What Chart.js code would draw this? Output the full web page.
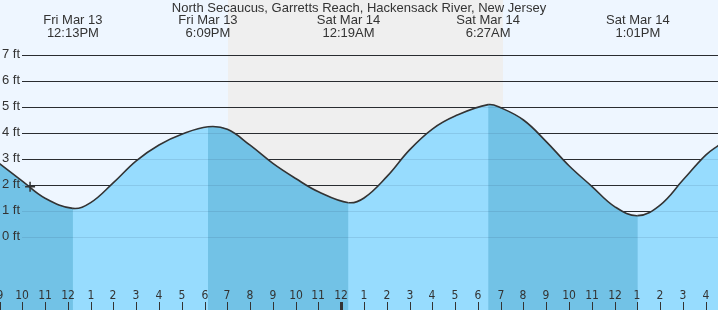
<!DOCTYPE html>
<html>
<head>
<meta charset="utf-8">
<style>
	body{ margin:0; background:#eef6ff; }
	#wrap{ width:718px; height:310px; }
</style>
<script src="https://cdn.jsdelivr.net/npm/chart.js"></script>
</head>
<body>
<div id="wrap"><canvas id="tideChart" width="718" height="310"></canvas></div>
<script>
// hours counted from Fri Mar 13 00:00
const tideHours = [9, 10, 11, 12.22, 13, 14, 15, 16, 17, 18.15, 19, 20, 21, 22, 23, 24.32, 25, 26, 27, 28, 29, 30.45, 31, 32, 33, 34, 35, 36, 37.02, 38, 39, 40, 40.6]
const tideFeet  = [2.82, 2.15, 1.49, 1.10, 1.32, 2.09, 2.93, 3.54, 3.95, 4.24, 4.14, 3.53, 2.83, 2.25, 1.74, 1.32, 1.50, 2.32, 3.35, 4.15, 4.65, 5.09, 4.97, 4.50, 3.67, 2.74, 1.95, 1.17, 0.82, 1.23, 2.19, 3.15, 3.55]

const eventHours = [12.22, 18.15, 24.32, 30.45, 37.02]
const eventDays  = ['Fri Mar 13', 'Fri Mar 13', 'Sat Mar 14', 'Sat Mar 14', 'Sat Mar 14']
const eventTimes = ['12:13PM', '6:09PM', '12:19AM', '6:27AM', '1:01PM']

const nowHour = 10.34
const nowFeet = 1.93

const nightStart = 19.03
const nightEnd = 31.10

const feetTicks = [0, 1, 2, 3, 4, 5, 6, 7]
const feetLabels = ['0 ft', '1 ft', '2 ft', '3 ft', '4 ft', '5 ft', '6 ft', '7 ft']

const hourTicks  = [9, 10, 11, 12, 13, 14, 15, 16, 17, 18, 19, 20, 21, 22, 23, 24, 25, 26, 27, 28, 29, 30, 31, 32, 33, 34, 35, 36, 37, 38, 39, 40]
const hourLabels = ['9', '10', '11', '12', '1', '2', '3', '4', '5', '6', '7', '8', '9', '10', '11', '12', '1', '2', '3', '4', '5', '6', '7', '8', '9', '10', '11', '12', '1', '2', '3', '4']
const midnightHours = [24]

const titleText = 'North Secaucus, Garretts Reach, Hackensack River, New Jersey'

const risingColor = 'rgb(151, 220, 254)'
const fallingColor = 'rgb(114, 194, 230)'

function drawFeetLines(chart, color){
	const c = chart.ctx
	const y = chart.scales.y
	c.save()
	c.strokeStyle = color
	c.lineWidth = 1
	for(let i = 0; i < feetTicks.length; i++){
		const py = Math.round(y.getPixelForValue(feetTicks[i])) + 0.5
		c.beginPath()
		c.moveTo(22, py)
		c.lineTo(chart.width, py)
		c.stroke()
	}
	c.restore()
}

const tidePlugin = {
	id: 'tideDecor',
	beforeDraw(chart){
		const c = chart.ctx
		const x = chart.scales.x
		c.save()
		c.fillStyle = '#eef6ff'
		c.fillRect(0, 0, chart.width, chart.height)
		const a = x.getPixelForValue(nightStart)
		const b = x.getPixelForValue(nightEnd)
		c.fillStyle = '#efefef'
		c.fillRect(a, 0, b - a, chart.height)
		c.restore()
	},
	beforeDatasetsDraw(chart){
		drawFeetLines(chart, '#2b2b2b')
	},
	afterDatasetsDraw(chart){
		// grid seen through the water
		drawFeetLines(chart, 'rgba(30, 60, 90, 0.12)')
		const c = chart.ctx
		const x = chart.scales.x
		const y = chart.scales.y
		c.save()
		// feet labels
		c.fillStyle = '#333'
		c.font = '13px "Liberation Sans", Arial, sans-serif'
		c.textAlign = 'left'
		c.textBaseline = 'middle'
		for(let i = 0; i < feetTicks.length; i++){
			c.fillText(feetLabels[i], 2, y.getPixelForValue(feetTicks[i]) - 0.5)
		}
		// hour ticks
		c.font = '12px "DejaVu Sans Condensed", "DejaVu Sans", sans-serif'
		c.textAlign = 'center'
		for(let i = 0; i < hourTicks.length; i++){
			const px = Math.round(x.getPixelForValue(hourTicks[i]))
			c.fillStyle = '#333'
			c.fillText(hourLabels[i], px, 296)
			if(midnightHours.includes(hourTicks[i])){
				c.fillRect(px - 1, 302, 3, 8)
			}else{
				c.fillRect(px, 302, 1, 8)
			}
		}
		// tide events on top
		c.font = '13px "Liberation Sans", Arial, sans-serif'
		for(let i = 0; i < eventHours.length; i++){
			const px = x.getPixelForValue(eventHours[i])
			c.fillText(eventDays[i], px, 20.5)
			c.fillText(eventTimes[i], px, 33.5)
		}
		c.fillText(titleText, chart.width / 2, 8)
		c.restore()
	}
}

const tidePoints = tideHours.map((h, i) => ({x: h, y: tideFeet[i]}))

new Chart(document.getElementById('tideChart'), {
	type: 'line',
	data: {
		datasets: [
			{
				// current time marker
				order: 0,
				data: [{x: nowHour, y: nowFeet}],
				showLine: false,
				fill: false,
				pointStyle: 'cross',
				pointRadius: 5,
				borderColor: '#333',
				borderWidth: 1.5
			},
			{
				// tide curve, dark while falling, light while rising
				order: 1,
				data: tidePoints,
				borderColor: '#333',
				borderWidth: 1.6,
				pointRadius: 0,
				tension: 0.4,
				fill: 'start',
				backgroundColor: risingColor,
				segment: {
					backgroundColor: s => s.p1.parsed.y < s.p0.parsed.y ? fallingColor : risingColor
				}
			},
			{
				// base water layer so segment joins leave no seam
				order: 2,
				data: tidePoints,
				borderWidth: 0,
				borderColor: 'rgba(0,0,0,0)',
				pointRadius: 0,
				tension: 0.4,
				fill: 'start',
				backgroundColor: risingColor
			}
		]
	},
	options: {
		responsive: false,
		animation: false,
		layout: { padding: 0, autoPadding: false },
		plugins: {
			legend: { display: false },
			tooltip: { enabled: false }
		},
		scales: {
			x: { type: 'linear', min: 9.02, max: 40.54, display: false },
			y: { type: 'linear', min: -2.808, max: 9.115, display: false }
		}
	},
	plugins: [tidePlugin]
})
</script>
</body>
</html>
